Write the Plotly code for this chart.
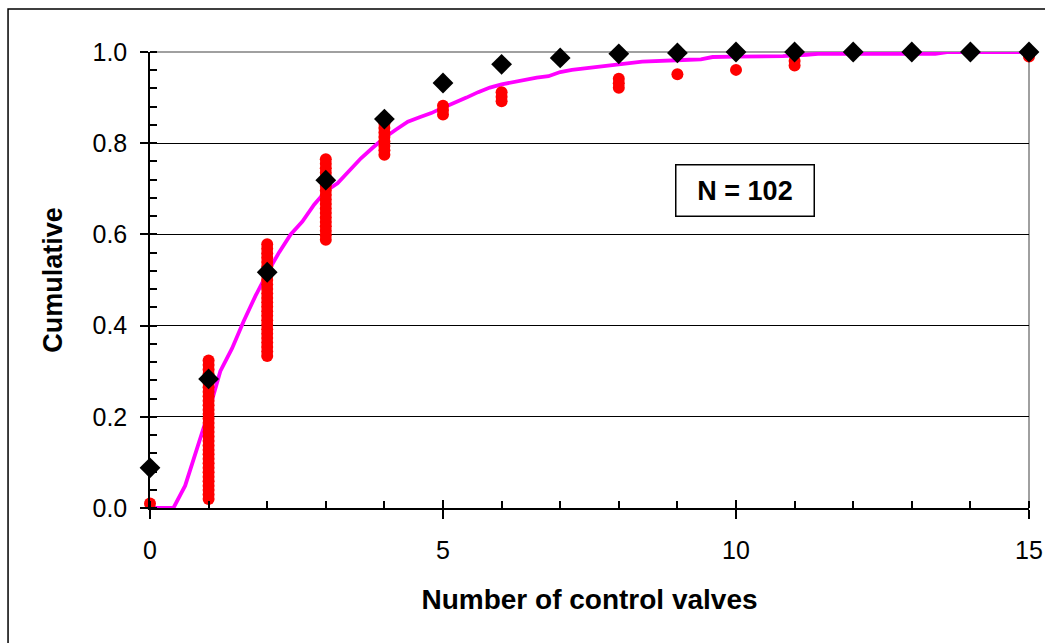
import numpy as np
import plotly.graph_objects as go

# Observed sample: number of control valves per unit and how many units had it
valve_values = [0, 1, 2, 3, 4, 5, 6, 8, 9, 10, 11, 15]
valve_counts = [1, 32, 26, 19, 9, 3, 3, 3, 1, 1, 2, 2]

# Model cumulative probabilities at integer valve counts
model_x = list(range(16))
model_cdf = [0.088, 0.283, 0.517, 0.719, 0.853, 0.932, 0.973, 0.987,
             0.996, 0.998, 1.0, 1.0, 1.0, 1.0, 1.0, 1.0]

# Smoothed cumulative curve
curve_x = [0, 0.4, 0.6, 0.8, 1.0, 1.2, 1.4, 1.6, 1.8, 2.0, 2.2, 2.4, 2.6, 2.8,
           3.0, 3.2, 3.4, 3.6, 3.8, 4.0, 4.2, 4.4, 4.6, 4.8, 5.0, 5.2, 5.4,
           5.6, 5.8, 6.0, 6.2, 6.4, 6.6, 6.8, 7.0, 7.2, 7.6, 8.0, 8.4, 8.8,
           9.2, 9.4, 9.6, 10.0, 10.8, 11.2, 11.4, 13.4, 13.6, 15.0]
curve_y = [0, 0, 0.049, 0.13, 0.21, 0.30, 0.35, 0.41, 0.465, 0.515, 0.56,
           0.60, 0.628, 0.665, 0.695, 0.712, 0.74, 0.767, 0.79, 0.812, 0.83,
           0.847, 0.857, 0.866, 0.878, 0.888, 0.90, 0.912, 0.922, 0.929,
           0.934, 0.94, 0.944, 0.947, 0.956, 0.961, 0.966, 0.973, 0.979,
           0.982, 0.983, 0.984, 0.989, 0.99, 0.991, 0.994, 0.996, 0.996,
           1.0, 1.0]

y_ticks = [0.0, 0.2, 0.4, 0.6, 0.8, 1.0]
x_ticks = [0, 5, 10, 15]

# Empirical cumulative: every unit plotted at its value with rank / N
sample = np.repeat(valve_values, valve_counts)
n_total = len(sample)
ranks = np.arange(1, n_total + 1) / n_total

FONT = "Arial, Liberation Sans, sans-serif"

fig = go.Figure()
fig.add_trace(go.Scatter(
    x=curve_x, y=curve_y, mode="lines",
    line=dict(color="#FF00FF", width=3.8), cliponaxis=False,
))
fig.add_trace(go.Scatter(
    x=sample, y=ranks, mode="markers",
    marker=dict(color="#FF0000", size=12, line=dict(width=0)),
    cliponaxis=False,
))
fig.add_trace(go.Scatter(
    x=model_x, y=model_cdf, mode="markers",
    marker=dict(color="#000000", symbol="diamond", size=16, line=dict(width=0)),
    cliponaxis=False,
))
# second x axis only for the inward half of the major ticks
fig.add_trace(go.Scatter(x=[0, 15], y=[None, None], xaxis="x2",
                         showlegend=False, hoverinfo="skip"))

fig.update_layout(
    width=1045, height=643,
    margin=dict(l=150, r=16, t=52, b=135, pad=0),
    paper_bgcolor="white", plot_bgcolor="white",
    showlegend=False,
    font=dict(family=FONT, color="black", size=25),
    xaxis=dict(
        range=[0, 15], tickvals=x_ticks, ticks="outside", ticklen=9,
        tickwidth=1.5, tickcolor="black", automargin=False,
        showline=True, linecolor="black", linewidth=1.5,
        showgrid=False, zeroline=False,
        tickfont=dict(size=25, family=FONT), ticklabelstandoff=10,
        minor=dict(dtick=1, ticks="inside", ticklen=7, tickwidth=1.5,
                   tickcolor="black", showgrid=False),
        title=dict(text="<b>Number of control valves</b>",
                   font=dict(size=28, family=FONT), standoff=27),
    ),
    xaxis2=dict(
        overlaying="x", anchor="y", side="bottom", range=[0, 15],
        tickvals=x_ticks, ticks="inside", ticklen=8, tickwidth=1.5,
        tickcolor="black", showticklabels=False, showgrid=False,
        zeroline=False, showline=False, automargin=False,
    ),
    yaxis=dict(
        range=[0, 1], tickvals=y_ticks, tickformat=".1f",
        ticks="outside", ticklen=8, tickwidth=1.5, tickcolor="black",
        showline=True, linecolor="black", linewidth=1.5,
        showgrid=True, gridcolor="black", gridwidth=1,
        zeroline=False, automargin=False,
        tickfont=dict(size=25, family=FONT), ticklabelstandoff=8,
        minor=dict(dtick=0.04, ticks="inside", ticklen=7, tickwidth=1.5,
                   tickcolor="black", showgrid=False),
        title=dict(text="<b>Cumulative</b>",
                   font=dict(size=27, family=FONT), standoff=22),
    ),
    shapes=[
        # top and right edges of the plotting area
        dict(type="line", xref="paper", yref="paper", x0=0, x1=1, y0=1, y1=1,
             line=dict(color="#808080", width=1.5), layer="between"),
        dict(type="line", xref="paper", yref="paper", x0=1, x1=1, y0=0, y1=1,
             line=dict(color="#808080", width=1.5), layer="between"),
        # outer chart frame
        dict(type="rect", xref="paper", yref="paper",
             x0=-0.1615, x1=1.04, y0=-0.34, y1=1.0945,
             line=dict(color="black", width=1.5), layer="below"),
    ],
    annotations=[
        dict(x=10.16, y=0.696, xref="x", yref="y", text="<b>N = 102</b>",
             showarrow=False, font=dict(size=27, family=FONT),
             bordercolor="black", borderwidth=1.5, borderpad=6,
             width=125, height=38, bgcolor="white"),
    ],
)

fig.write_html("out.html")
